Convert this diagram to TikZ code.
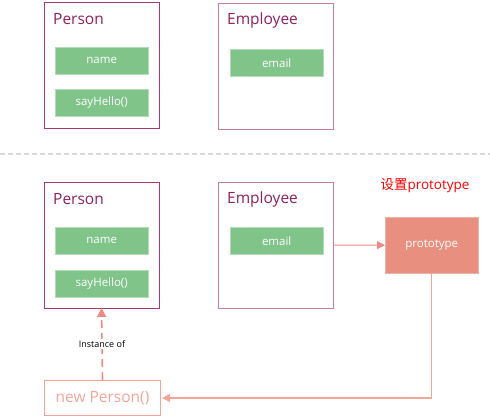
\documentclass[tikz,border=0pt]{standalone}
\usepackage{fontspec}
\setmainfont{Open Sans}
\newfontfamily\cjk{Noto Sans CJK SC}
\usetikzlibrary{arrows.meta}
\definecolor{classline}{HTML}{A5377A}
\definecolor{classlight}{HTML}{C27AA6}
\definecolor{classtext}{HTML}{8E1F60}
\definecolor{fieldfill}{HTML}{80C48A}
\definecolor{protofill}{HTML}{E98F80}
\definecolor{linkline}{HTML}{F08A84}
\definecolor{newline}{HTML}{F3A598}

\begin{document}
\begin{tikzpicture}[x=1pt,y=-1pt,
        classbox/.style={draw=classline,line width=0.9pt,minimum width=115pt,minimum height=126pt,anchor=north west,inner sep=0pt,outer sep=0pt},
        classname/.style={text=classtext,font=\fontsize{15.5}{17}\selectfont,anchor=west,inner sep=0pt},
        field/.style={fill=fieldfill,draw=fieldfill!60!white,minimum width=93pt,minimum height=27pt,anchor=north west,inner sep=0pt,text=white,font=\fontsize{11.5}{13}\selectfont}]
        \useasboundingbox (0,0) rectangle (490,417);
        % before
        \node [classbox] (person1) at (44,2) {};
        \node [classname] (person1t) at (53,19) {Person};
        \node [field] (name1) at (55,47) {name};
        \node [field] (hello1) at (55,89) {sayHello()};
        \node [classbox,draw=classlight] (emp1) at (218,3) {};
        \node [classname] (emp1t) at (227,20) {Employee};
        \node [field] (email1) at (230,49) {email};
        \draw [black!15,line width=1.6pt,dash pattern=on 5pt off 3pt] (0,154)--(490,154);
        % after
        \node [classbox] (person2) at (44,182) {};
        \node [classname] (person2t) at (53,199) {Person};
        \node [field] (name2) at (55,227) {name};
        \node [field] (hello2) at (55,270) {sayHello()};
        \node [classbox,draw=classlight] (emp2) at (218,182) {};
        \node [classname] (emp2t) at (227,199) {Employee};
        \node [field] (email2) at (230,227) {email};
        \node [text=red,font=\fontsize{13.5}{15}\selectfont] (settext) at (425,186) {{\cjk 设置}prototype};
        \node [fill=protofill,draw=protofill!70!white,minimum width=93pt,minimum height=56pt,anchor=north west,text=white,font=\fontsize{11.5}{13}\selectfont,inner sep=0pt] (proto) at (385,217) {prototype};
        \node [draw=newline,line width=1pt,minimum width=116pt,minimum height=35pt,anchor=north west,text=newline,font=\fontsize{15.5}{17}\selectfont,inner sep=0pt] (newp) at (44,380) {new Person()};
        \draw [linkline,line width=1pt,-{Triangle[length=8pt,width=8pt]}] (emp2)--(proto);
        \draw [newline,line width=1.2pt,-{Triangle[length=8pt,width=8pt]},shorten >=1pt] (proto.south) |- (newp.east);
        \draw [linkline,line width=1.6pt,dash pattern=on 8pt off 5pt,-{Triangle[length=9pt,width=9pt]}] (newp.north)--(person2.south) node [midway,fill=white,text=black,font=\fontsize{9}{11}\selectfont,inner sep=2pt] (inst) {Instance of};
    \end{tikzpicture}
\end{document}
